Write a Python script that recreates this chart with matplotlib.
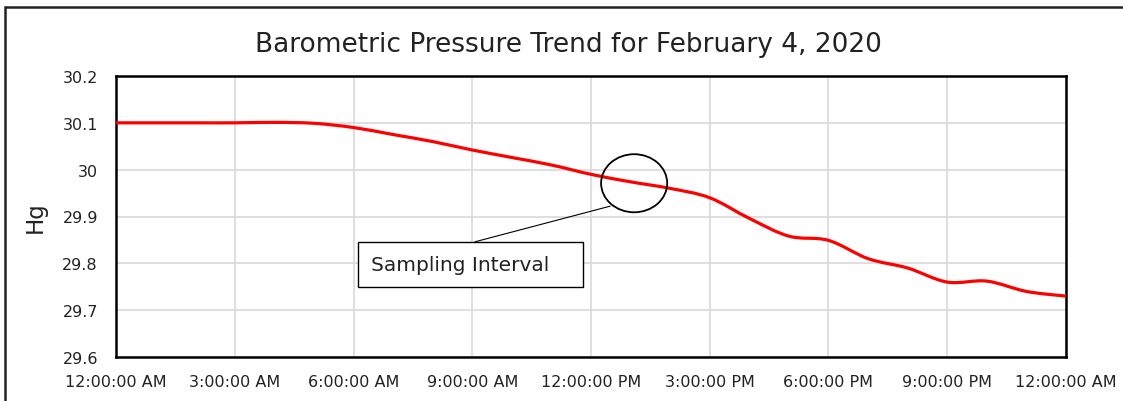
import numpy as np
import matplotlib.pyplot as plt
from matplotlib.path import Path
from matplotlib.patches import PathPatch, Ellipse, Rectangle

plt.rcParams['font.family'] = ['DejaVu Sans']

# hourly readings, Feb 4 2020 (hours from midnight)
hours = list(range(25))
pressure = [30.10, 30.10, 30.10, 30.10, 30.101, 30.099, 30.09, 30.075, 30.06,
            30.042, 30.026, 30.01, 29.99, 29.974, 29.96, 29.94, 29.896, 29.858,
            29.849, 29.81, 29.79, 29.76, 29.762, 29.74, 29.73]

tick_hours = [0, 3, 6, 9, 12, 15, 18, 21, 24]
tick_labels = ['12:00:00 AM', '3:00:00 AM', '6:00:00 AM', '9:00:00 AM', '12:00:00 PM',
               '3:00:00 PM', '6:00:00 PM', '9:00:00 PM', '12:00:00 AM']
y_ticks = [29.6, 29.7, 29.8, 29.9, 30.0, 30.1, 30.2]
y_labels = ['29.6', '29.7', '29.8', '29.9', '30', '30.1', '30.2']


def smooth_path(x, y, t=1/6):
    # Excel style smoothed line: bezier segments through every point
    x = np.asarray(x, float)
    y = np.asarray(y, float)
    verts = [(x[0], y[0])]
    codes = [Path.MOVETO]
    n = len(x)
    for i in range(n - 1):
        p0 = i - 1 if i > 0 else i
        p3 = i + 2 if i + 2 < n else i + 1
        c1 = (x[i] + (x[i + 1] - x[p0]) * t, y[i] + (y[i + 1] - y[p0]) * t)
        c2 = (x[i + 1] - (x[p3] - x[i]) * t, y[i + 1] - (y[p3] - y[i]) * t)
        verts += [c1, c2, (x[i + 1], y[i + 1])]
        codes += [Path.CURVE4] * 3
    return Path(verts, codes)


fig = plt.figure(figsize=(11.23, 4.02), dpi=100)
ax = fig.add_axes([116 / 1123, 1 - 358 / 402, 950 / 1123, 281 / 402])

ax.add_patch(PathPatch(smooth_path(hours, pressure), fill=False, edgecolor='#ff0000',
                       lw=2.3, capstyle='round', zorder=3))

ax.set_xlim(0, 24)
ax.set_ylim(29.6, 30.2)
ax.set_xticks(tick_hours)
ax.set_xticklabels(tick_labels)
ax.set_yticks(y_ticks)
ax.set_yticklabels(y_labels)
ax.tick_params(length=0, labelsize=11.5, colors='#222222')
ax.tick_params(axis='x', pad=12)
ax.tick_params(axis='y', pad=13)
ax.grid(True, color='#d9d9d9', lw=1.2)
ax.set_axisbelow(True)
for s in ax.spines.values():
    s.set_linewidth(1.8)
    s.set_color('black')

ax.set_ylabel('Hg', fontsize=16.5, color='#222222', labelpad=11)
fig.text(568 / 1123, 1 - 45 / 402, 'Barometric Pressure Trend for February 4, 2020',
         ha='center', va='center', fontsize=19, color='#222222')

# annotation: circle + leader line + box
ax.add_patch(Ellipse((13.09, 29.971), 1.67, 0.124, fill=False, edgecolor='black',
                     lw=1.3, zorder=4))
ax.plot([12.48, 9.07], [29.922, 29.846], color='black', lw=0.8, zorder=4)
ax.add_patch(Rectangle((6.11, 29.749), 5.69, 0.096, facecolor='white', edgecolor='black',
                       lw=1.0, zorder=5))
ax.text(6.45, 29.797, 'Sampling Interval', fontsize=14.5, color='#222222', va='center',
        ha='left', zorder=6)

# outer chart border (cut off at right and bottom)
fig.patches.append(Rectangle((5 / 1123, -0.1), 1.2, 1 - 8 / 402 + 0.1, transform=fig.transFigure,
                             fill=False, edgecolor='#222222', lw=1.8))

fig.savefig('out.png', dpi=100)
